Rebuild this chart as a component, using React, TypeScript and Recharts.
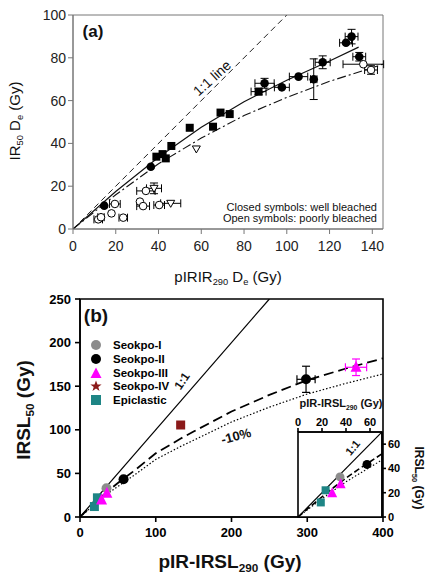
import { ComposedChart, Scatter, Line, XAxis, YAxis, ErrorBar, ReferenceArea } from "recharts";

// ---------- panel (a): IR50 De against pIRIR290 De ----------
const wellSquares = [
  { x: 39.0, y: 33.8 },
  { x: 41.9, y: 35.0 },
  { x: 43.4, y: 33.0 },
  { x: 46.0, y: 38.8 },
  { x: 54.6, y: 47.3 },
  { x: 65.5, y: 47.8 },
  { x: 69.0, y: 54.4 },
  { x: 73.3, y: 53.7 },
  { x: 86.8, y: 64.2, ex: 3.5, ey: 1.5 },
];
const wellCircles = [
  { x: 14.6, y: 10.9 },
  { x: 36.4, y: 29.1 },
  { x: 89.6, y: 68.1, ex: 4.5, ey: 2.3 },
  { x: 97.7, y: 66.2, ex: 3.5 },
  { x: 105.5, y: 71.2, ex: 4.3 },
  { x: 112.6, y: 70.0, ex: 1.5, ey: 9.5 },
  { x: 116.8, y: 77.9, ex: 3.5, ey: 3 },
  { x: 127.7, y: 87.0, ex: 3 },
  { x: 130.3, y: 89.9, ex: 3, ey: 3.4 },
  { x: 133.9, y: 80.5, ex: 3, ey: 2 },
];
const poorCircles = [
  { x: 11.8, y: 4.5, ex: 2 },
  { x: 13.1, y: 5.5, ex: 1.5 },
  { x: 18.0, y: 7.3 },
  { x: 19.6, y: 11.7, ex: 2.5 },
  { x: 23.5, y: 5.3, ex: 2 },
  { x: 31.3, y: 12.8 },
  { x: 32.8, y: 10.7, ex: 3 },
  { x: 34.1, y: 17.8, ex: 4.3 },
  { x: 40.3, y: 11.2, ex: 2.5 },
  { x: 135.8, y: 77.0, ex: 9.5 },
  { x: 139.4, y: 74.3, ex: 3, ey: 2 },
];
const poorTriangles = [
  { x: 37.9, y: 19.0, ex: 3.5, ey: 2.5 },
  { x: 45.7, y: 12.0, ex: 4.7 },
  { x: 57.7, y: 37.4 },
];
const lineOneToOneA = [{ x: 0, y: 0 }, { x: 100, y: 100 }];
const fitSolidA = [
  { x: 0, y: 0 }, { x: 20, y: 17.5 }, { x: 40, y: 33.5 }, { x: 60, y: 47.5 },
  { x: 80, y: 59.5 }, { x: 100, y: 69.5 }, { x: 120, y: 78.5 }, { x: 133.6, y: 85 },
];
const fitDashDotA = [
  { x: 0, y: 0 }, { x: 20, y: 16 }, { x: 40, y: 30.5 }, { x: 60, y: 42.5 },
  { x: 80, y: 53 }, { x: 100, y: 61.5 }, { x: 120, y: 69 }, { x: 145, y: 77 },
];
const ticksA_x = [0, 20, 40, 60, 80, 100, 120, 140];
const ticksA_y = [0, 20, 40, 60, 80, 100];

// ---------- panel (b): IRSL50 against pIR-IRSL290 ----------
const seokpoI = [{ x: 35, y: 33 }];
const seokpoII = [
  { x: 57.5, y: 43.3 },
  { x: 298.4, y: 157.9, ex: 12, ey: 15 },
];
const seokpoIII = [
  { x: 35.5, y: 27 },
  { x: 28.5, y: 19.5 },
  { x: 364.4, y: 171.7, ex: 14, ey: 9.5 },
];
const seokpoIV = [{ x: 132.9, y: 105.5, ex: 5, ey: 2 }];
const epiclastic = [
  { x: 23, y: 22 },
  { x: 19, y: 12 },
];
const lineOneToOneB = [{ x: 0, y: 0 }, { x: 250, y: 250 }];
const lineOneToOneInset = [{ x: 0, y: 0 }, { x: 70, y: 70 }];
const fitDashedB = [
  { x: 0, y: 0 }, { x: 10, y: 8.5 }, { x: 20, y: 16.5 }, { x: 30, y: 24.5 },
  { x: 40, y: 32 }, { x: 50, y: 39 }, { x: 60, y: 45.5 }, { x: 70, y: 52 },
  { x: 100, y: 73 }, { x: 133, y: 90 }, { x: 150, y: 98 }, { x: 200, y: 121 },
  { x: 250, y: 140 }, { x: 300, y: 157 }, { x: 350, y: 170 }, { x: 400, y: 182 },
];
const fitDottedB = [
  { x: 0, y: 0 }, { x: 10, y: 7.5 }, { x: 20, y: 15 }, { x: 30, y: 22 },
  { x: 40, y: 29 }, { x: 50, y: 35 }, { x: 60, y: 41 }, { x: 70, y: 47 },
  { x: 100, y: 66 }, { x: 133, y: 81 }, { x: 150, y: 88 }, { x: 200, y: 109 },
  { x: 250, y: 126 }, { x: 300, y: 141 }, { x: 350, y: 153 }, { x: 400, y: 164 },
];
const ticksB_x = [0, 100, 200, 300, 400];
const ticksB_y = [0, 50, 100, 150, 200, 250];
const ticksInset = [0, 20, 40, 60];

const legendB = [
  { name: "Seokpo-I", color: "#8c8c8c", kind: "circle" },
  { name: "Seokpo-II", color: "#000000", kind: "circle" },
  { name: "Seokpo-III", color: "#ff00ff", kind: "triangle" },
  { name: "Seokpo-IV", color: "#8b1a1a", kind: "star" },
  { name: "Epiclastic", color: "#1e8585", kind: "square" },
];

// marker shapes
const sq = (fill: string, s: number, stroke = "none") => (p: any) =>
  <rect x={p.cx - s / 2} y={p.cy - s / 2} width={s} height={s} fill={fill} stroke={stroke} />;
const circ = (fill: string, r: number, stroke = "none") => (p: any) =>
  <circle cx={p.cx} cy={p.cy} r={r} fill={fill} stroke={stroke} strokeWidth={1} />;
const triUp = (fill: string, s: number) => (p: any) =>
  <path d={`M${p.cx},${p.cy - s * 0.6} L${p.cx + s / 2},${p.cy + s * 0.4} L${p.cx - s / 2},${p.cy + s * 0.4} Z`} fill={fill} />;
const triDownOpen = (p: any) =>
  <path d={`M${p.cx - 4},${p.cy - 3} L${p.cx + 4},${p.cy - 3} L${p.cx},${p.cy + 4} Z`} fill="#fff" stroke="#000" strokeWidth={1} />;

const sansA = "'Liberation Sans', Arial, sans-serif";

const Txt = ({ x, y, rot = 0, size, bold = false, children, anchor = "center" }: any) => (
  <div
    style={{
      position: "absolute", left: x, top: y, whiteSpace: "nowrap",
      transform: `translate(${anchor === "right" ? "-100%" : "-50%"}, -50%) rotate(${rot}deg)`,
      fontSize: size, fontWeight: bold ? 700 : 400, fontFamily: sansA, color: "#111", lineHeight: 1,
    }}
  >
    {children}
  </div>
);

const subStyle = { fontSize: "0.62em", verticalAlign: "-0.35em" };

const LegendMark = ({ kind, color }: any) => (
  <svg width={12} height={12} style={{ position: "absolute", left: -6, top: -6 }}>
    {kind === "circle" && <circle cx={6} cy={6} r={5} fill={color} />}
    {kind === "square" && <rect x={1} y={1} width={10} height={10} fill={color} />}
    {kind === "triangle" && <path d="M6,0.5 L11.5,11 L0.5,11 Z" fill={color} />}
    {kind === "star" && (
      <path d="M6,0.5 L7.5,4.4 L11.6,4.4 L8.3,6.9 L9.5,11 L6,8.5 L2.5,11 L3.7,6.9 L0.4,4.4 L4.5,4.4 Z" fill={color} />
    )}
  </svg>
);

export default function App() {
  const tickA = { fontSize: 14, fill: "#222" };
  const tickB = { fontSize: 13, fill: "#000", fontWeight: 700 };
  const tickIn = { fontSize: 11, fill: "#000", fontWeight: 700 };

  return (
    <div style={{ position: "absolute", left: 0, top: 0, width: 434, height: 577, background: "#fff", fontFamily: sansA }}>
      {/* panel (a) */}
      <div style={{ position: "absolute", left: 0, top: 0 }}>
        <ComposedChart width={434} height={290} margin={{ top: 15, right: 51, bottom: 31, left: 0 }}>
          <XAxis dataKey="x" type="number" domain={[0, 145]} ticks={ticksA_x} tickSize={5} tickMargin={7} interval={0}
            stroke="#777" tick={tickA} height={30} allowDataOverflow />
          <YAxis dataKey="y" type="number" domain={[0, 100]} ticks={ticksA_y} tickSize={5} interval={0}
            stroke="#777" tick={tickA} width={73} allowDataOverflow />
          <ReferenceArea x1={0} x2={145} y1={0} y2={100} fill="none" stroke="#777" strokeWidth={1} />
          <Line data={lineOneToOneA} dataKey="y" stroke="#222" strokeWidth={1} strokeDasharray="6 4" dot={false} isAnimationActive={false} />
          <Line data={fitSolidA} dataKey="y" stroke="#111" strokeWidth={1.2} dot={false} isAnimationActive={false} />
          <Line data={fitDashDotA} dataKey="y" stroke="#111" strokeWidth={1.1} strokeDasharray="9 3 2 3" dot={false} isAnimationActive={false} />
          <Scatter data={poorCircles} shape={circ("#fff", 3.8, "#000")} isAnimationActive={false}>
            <ErrorBar dataKey="ex" direction="x" width={4} stroke="#000" strokeWidth={1} />
            <ErrorBar dataKey="ey" direction="y" width={4} stroke="#000" strokeWidth={1} />
          </Scatter>
          <Scatter data={poorTriangles} shape={triDownOpen} isAnimationActive={false}>
            <ErrorBar dataKey="ex" direction="x" width={4} stroke="#000" strokeWidth={1} />
            <ErrorBar dataKey="ey" direction="y" width={4} stroke="#000" strokeWidth={1} />
          </Scatter>
          <Scatter data={wellSquares} shape={sq("#000", 8)} isAnimationActive={false}>
            <ErrorBar dataKey="ex" direction="x" width={4} stroke="#000" strokeWidth={1} />
            <ErrorBar dataKey="ey" direction="y" width={4} stroke="#000" strokeWidth={1} />
          </Scatter>
          <Scatter data={wellCircles} shape={circ("#000", 4.3)} isAnimationActive={false}>
            <ErrorBar dataKey="ex" direction="x" width={4} stroke="#000" strokeWidth={1} />
            <ErrorBar dataKey="ey" direction="y" width={4} stroke="#000" strokeWidth={1} />
          </Scatter>
        </ComposedChart>
      </div>
      <Txt x={93} y={31} size={17} bold>(a)</Txt>
      <Txt x={212} y={78} size={14} rot={-42}>1:1 line</Txt>
      <Txt x={377} y={207} size={11} anchor="right">Closed symbols: well bleached</Txt>
      <Txt x={377} y={218} size={11} anchor="right">Open symbols: poorly bleached</Txt>
      <Txt x={228} y={278} size={15}>pIRIR<span style={subStyle}>290</span> D<span style={subStyle}>e</span> (Gy)</Txt>
      <Txt x={16} y={121} size={15} rot={-90}>IR<span style={subStyle}>50</span> D<span style={subStyle}>e</span> (Gy)</Txt>

      {/* panel (b) */}
      <div style={{ position: "absolute", left: 0, top: 290 }}>
        <ComposedChart width={434} height={287} margin={{ top: 9, right: 51, bottom: 30, left: 0 }}>
          <XAxis dataKey="x" type="number" domain={[0, 400]} ticks={ticksB_x} tickSize={5} tickMargin={6} interval={0}
            stroke="#000" strokeWidth={1.6} tick={tickB} height={30} allowDataOverflow />
          <YAxis dataKey="y" type="number" domain={[0, 250]} ticks={ticksB_y} tickSize={5} tickMargin={4} interval={0}
            stroke="#000" strokeWidth={1.6} tick={tickB} width={80} allowDataOverflow />
          <ReferenceArea x1={0} x2={400} y1={0} y2={250} fill="none" stroke="#000" strokeWidth={1.6} />
          <Line data={lineOneToOneB} dataKey="y" stroke="#000" strokeWidth={1.2} dot={false} isAnimationActive={false} />
          <Line data={fitDashedB} dataKey="y" stroke="#000" strokeWidth={1.8} strokeDasharray="10 5" dot={false} isAnimationActive={false} />
          <Line data={fitDottedB} dataKey="y" stroke="#000" strokeWidth={1.2} strokeDasharray="1.5 2" dot={false} isAnimationActive={false} />
          <Scatter data={seokpoIV} shape={sq("#8b1a1a", 9)} isAnimationActive={false}>
            <ErrorBar dataKey="ex" direction="x" width={3} stroke="#e8b8b8" strokeWidth={1} />
            <ErrorBar dataKey="ey" direction="y" width={3} stroke="#e8b8b8" strokeWidth={1} />
          </Scatter>
          <Scatter data={epiclastic} shape={sq("#1e8585", 9)} isAnimationActive={false} />
          <Scatter data={seokpoI} shape={circ("#8c8c8c", 5)} isAnimationActive={false} />
          <Scatter data={seokpoIII} shape={triUp("#ff00ff", 11)} isAnimationActive={false}>
            <ErrorBar dataKey="ex" direction="x" width={4} stroke="#ff00ff" strokeWidth={1.2} />
            <ErrorBar dataKey="ey" direction="y" width={4} stroke="#ff00ff" strokeWidth={1.2} />
          </Scatter>
          <Scatter data={seokpoII} shape={circ("#000", 5)} isAnimationActive={false}>
            <ErrorBar dataKey="ex" direction="x" width={4} stroke="#000" strokeWidth={1.2} />
            <ErrorBar dataKey="ey" direction="y" width={4} stroke="#000" strokeWidth={1.2} />
          </Scatter>
        </ComposedChart>
      </div>

      {/* inset: low-dose part of panel (b) */}
      <div style={{ position: "absolute", left: 288, top: 412 }}>
        <ComposedChart width={142} height={112} margin={{ top: 0, right: 14, bottom: 7, left: 10 }}>
          <XAxis dataKey="x" type="number" orientation="top" domain={[0, 70]} ticks={ticksInset} tickSize={4} interval={0}
            stroke="#000" strokeWidth={1.6} tick={tickIn} height={20} allowDataOverflow />
          <YAxis dataKey="y" type="number" orientation="right" domain={[0, 70]} ticks={ticksInset} tickSize={4} interval={0}
            stroke="#000" strokeWidth={1.6} tick={tickIn} width={34} allowDataOverflow />
          <ReferenceArea x1={0} x2={70} y1={0} y2={70} fill="#fff" fillOpacity={1} stroke="#000" strokeWidth={1.6} />
          <Line data={lineOneToOneInset} dataKey="y" stroke="#000" strokeWidth={1.2} dot={false} isAnimationActive={false} />
          <Line data={fitDashedB.filter(p => p.x <= 70)} dataKey="y" stroke="#000" strokeWidth={1.6} strokeDasharray="6 3" dot={false} isAnimationActive={false} />
          <Line data={fitDottedB.filter(p => p.x <= 70)} dataKey="y" stroke="#000" strokeWidth={1.1} strokeDasharray="1.5 2" dot={false} isAnimationActive={false} />
          <Scatter data={epiclastic} shape={sq("#1e8585", 8)} isAnimationActive={false} />
          <Scatter data={seokpoI} shape={circ("#8c8c8c", 4.5)} isAnimationActive={false} />
          <Scatter data={seokpoIII.filter(p => p.x < 70)} shape={triUp("#ff00ff", 10)} isAnimationActive={false} />
          <Scatter data={seokpoII.filter(p => p.x < 70)} shape={circ("#000", 4.5)} isAnimationActive={false} />
        </ComposedChart>
      </div>

      <Txt x={96} y={315} size={19} bold>(b)</Txt>
      {legendB.map((l, i) => (
        <div key={l.name} style={{ position: "absolute", left: 96, top: 345 + i * 13.8 }}>
          <LegendMark kind={l.kind} color={l.color} />
          <div style={{ position: "absolute", left: 17, top: -7, fontSize: 11.5, fontWeight: 700, whiteSpace: "nowrap", lineHeight: "14px" }}>
            {l.name}
          </div>
        </div>
      ))}
      <Txt x={182} y={381} size={12} bold rot={-56}>1:1</Txt>
      <Txt x={236} y={436} size={13} bold rot={-15}>-10%</Txt>
      <Txt x={353} y={448} size={11} bold rot={-50}>1:1</Txt>
      <Txt x={341} y={405} size={11} bold>pIR-IRSL<span style={subStyle}>290</span> (Gy)</Txt>
      <Txt x={418} y={478} size={12} bold rot={90}>IRSL<span style={subStyle}>50</span> (Gy)</Txt>
      <Txt x={230} y={563} size={19} bold>pIR-IRSL<span style={subStyle}>290</span> (Gy)</Txt>
      <Txt x={25} y={410} size={19} bold rot={-90}>IRSL<span style={subStyle}>50</span> (Gy)</Txt>
    </div>
  );
}
